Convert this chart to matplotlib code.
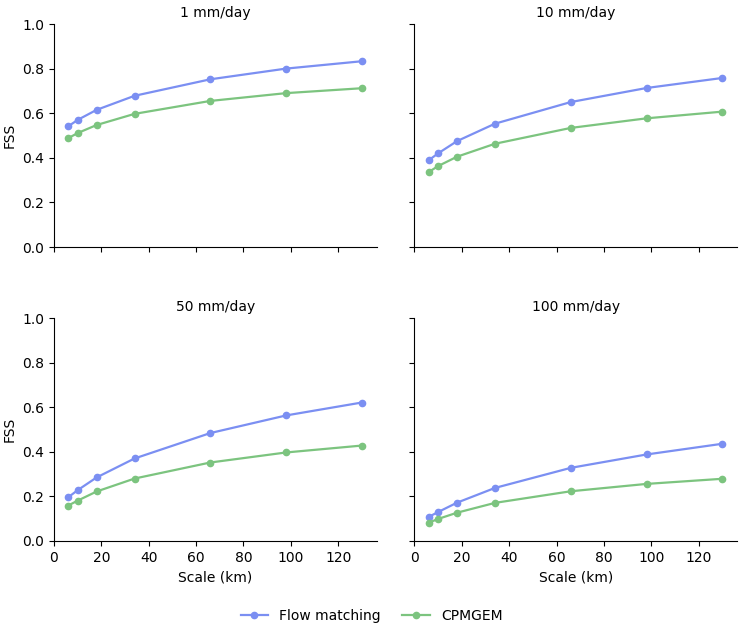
import matplotlib
matplotlib.use("Agg")
import matplotlib.pyplot as plt

scales = [6, 10, 18, 34, 66, 98, 130]
titles = ["1 mm/day", "10 mm/day", "50 mm/day", "100 mm/day"]
flow_matching = [
    [0.541, 0.570, 0.615, 0.678, 0.752, 0.800, 0.833],
    [0.389, 0.420, 0.475, 0.553, 0.650, 0.713, 0.758],
    [0.196, 0.228, 0.285, 0.370, 0.484, 0.563, 0.621],
    [0.108, 0.130, 0.172, 0.238, 0.328, 0.388, 0.436],
]
cpmgem = [
    [0.488, 0.511, 0.547, 0.597, 0.655, 0.690, 0.712],
    [0.336, 0.363, 0.405, 0.463, 0.534, 0.577, 0.607],
    [0.159, 0.181, 0.222, 0.280, 0.352, 0.397, 0.428],
    [0.082, 0.099, 0.127, 0.171, 0.223, 0.256, 0.279],
]
series_names = ["Flow matching", "CPMGEM"]
colors = ["#7b8ff2", "#7cc47f"]

fig, axes = plt.subplots(2, 2, figsize=(7.43, 6.28), dpi=100, sharex=True, sharey=True)
fig.subplots_adjust(left=54/743, right=737/743, top=1-24/628, bottom=1-541/628, wspace=38/323, hspace=71/223)

for i, ax in enumerate(axes.flat):
    ax.plot(scales, flow_matching[i], marker="o", ms=4.5, lw=1.6, color=colors[0], label=series_names[0])
    ax.plot(scales, cpmgem[i], marker="o", ms=4.5, lw=1.6, color=colors[1], label=series_names[1])
    ax.set_title(titles[i], fontsize=10, pad=5)
    ax.set_ylim(0, 1.0)
    ax.set_xlim(0, 136.2)
    ax.spines["top"].set_visible(False)
    ax.spines["right"].set_visible(False)
    ax.tick_params(labelsize=10)
    if i % 2 == 0:
        ax.set_ylabel("FSS", fontsize=10)
    if i >= 2:
        ax.set_xlabel("Scale (km)", fontsize=10)
    ax.set_xticks([0, 20, 40, 60, 80, 100, 120])
    ax.set_yticks([0, 0.2, 0.4, 0.6, 0.8, 1.0])

handles, labels = axes[0, 0].get_legend_handles_labels()
fig.legend(handles, labels, loc="lower center", ncol=2, frameon=False, fontsize=10,
           bbox_to_anchor=(0.5, -0.012), columnspacing=1.5)

fig.savefig("out.png", dpi=100)
